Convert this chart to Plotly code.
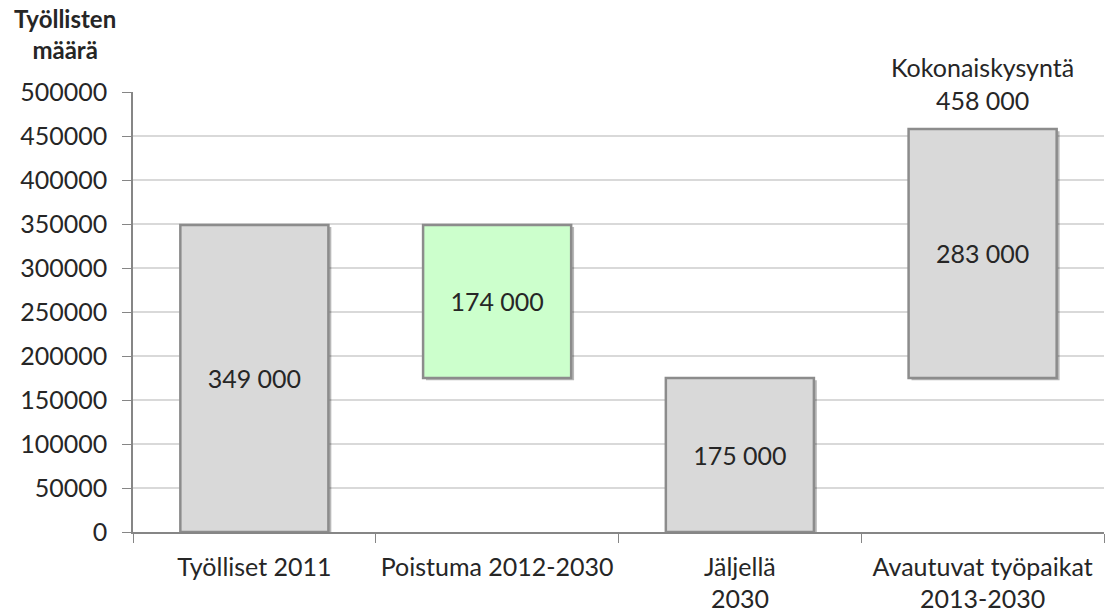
import plotly.graph_objects as go

categories = ["Työlliset 2011", "Poistuma 2012-2030", "Jäljellä<br>2030", "Avautuvat työpaikat<br>2013-2030"]
bases = [0, 175000, 0, 175000]
values = [349000, 174000, 175000, 283000]
value_labels = ["349 000", "174 000", "175 000", "283 000"]
bar_colors = ["#d9d9d9", "#ccffcc", "#d9d9d9", "#d9d9d9"]
total_label = "Kokonaiskysyntä<br>458 000"
total_value = 458000
y_ticks = [0, 50000, 100000, 150000, 200000, 250000, 300000, 350000, 400000, 450000, 500000]

FONT = "Lato, 'Open Sans', sans-serif"
TXT = "#262626"
BAR_W = 0.61

fig = go.Figure()
# soft drop shadow
fig.add_trace(go.Bar(
    x=categories, y=values, base=[b - 2500 for b in bases],
    marker=dict(color="rgba(0,0,0,0.28)", line=dict(width=0)),
    width=BAR_W, offset=-BAR_W / 2 + 0.012,
    hoverinfo="skip",
))
fig.add_trace(go.Bar(
    x=categories, y=values, base=bases,
    marker=dict(color=bar_colors, line=dict(color="#8c8c8c", width=2.5)),
    width=BAR_W, offset=-BAR_W / 2,
    text=value_labels, textposition="inside", insidetextanchor="middle",
    textfont=dict(family=FONT, size=25, color=TXT),
    constraintext="none",
    hoverinfo="skip",
))

fig.add_annotation(x=categories[3], y=total_value, text=total_label, showarrow=False,
                   xref="x", yref="y", yanchor="bottom", yshift=12,
                   font=dict(family=FONT, size=25, color=TXT))
fig.add_annotation(x=-0.07, y=1.205, xref="paper", yref="paper", text="<b>Työllisten<br>määrä</b>",
                   showarrow=False, xanchor="center", yanchor="top",
                   font=dict(family=FONT, size=24, color=TXT))

fig.update_layout(
    width=1106, height=614,
    margin=dict(l=133, r=2, t=92, b=82),
    paper_bgcolor="white", plot_bgcolor="white",
    showlegend=False, barmode="overlay",
    font=dict(family=FONT, size=25, color=TXT),
)
fig.update_xaxes(
    showline=True, linecolor="#868686", linewidth=1.5,
    ticks="outside", tickson="boundaries", ticklen=9, tickcolor="#868686",
    tickfont=dict(family=FONT, size=25, color=TXT),
    ticklabelstandoff=12,
    range=[-0.5, 3.5], showgrid=False,
)
fig.update_yaxes(
    range=[0, 500000], tickvals=y_ticks, ticktext=[str(v) for v in y_ticks],
    showline=True, linecolor="#868686", linewidth=1.5,
    ticks="outside", ticklen=9, tickcolor="#868686",
    ticklabelstandoff=10,
    showgrid=True, gridcolor="#d9d9d9", gridwidth=1.5,
    tickfont=dict(family=FONT, size=25, color=TXT),
    zeroline=False,
)
fig.write_html("out.html")
